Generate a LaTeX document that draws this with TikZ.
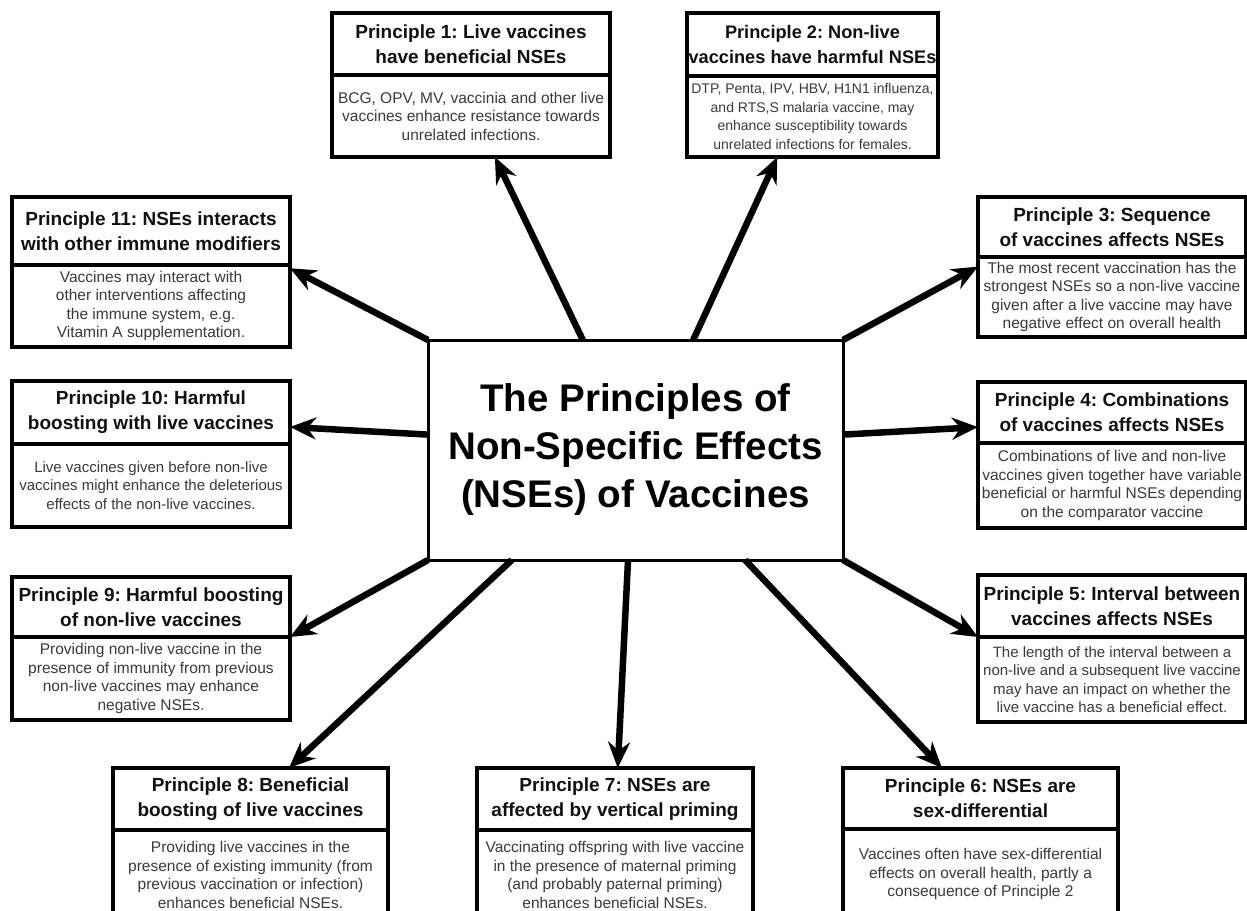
\documentclass[tikz,border=0pt]{standalone}
\usepackage{fontspec}
\setmainfont{Liberation Sans}
\frenchspacing
\usetikzlibrary{arrows.meta,calc,positioning}
\definecolor{nseInk}{HTML}{111111}
\definecolor{nseGrey}{HTML}{3A3A3A}

\begin{document}
\begin{tikzpicture}[x=1pt,y=-1pt,>=Stealth,line join=miter]
\useasboundingbox (0,0) rectangle (1247,910);
\clip (0,0) rectangle (1247,910);
\path[fill=white] (0,0) rectangle (1247,910);
\tikzset{ptitle/.style={draw=black,line width=3.5pt,fill=white,inner sep=0pt,outer sep=0pt,align=center,text=nseInk,font=\fontsize{19}{25}\selectfont\bfseries,anchor=north west},
pbody/.style={draw=black,line width=3.5pt,fill=white,inner sep=0pt,outer sep=0pt,align=center,text=nseGrey,font=\fontsize{15.5}{18.5}\selectfont,below=0pt of #1},
hub/.style={draw=black,line width=3pt,fill=white,inner sep=0pt,outer sep=0pt,align=center,text=black,font=\fontsize{38.5}{48}\selectfont\bfseries},
spoke/.style={draw=black,line width=6.5pt,-{Stealth[length=26pt,width=22pt]}}}
% centre
\node[hub,minimum width=415,minimum height=220] (hub) at (635.5,450) {The Principles of\\Non-Specific Effects\\(NSEs) of Vaccines};
% top row
\node[ptitle,minimum width=278,minimum height=62] (p1t) at (332,13) {Principle 1: Live vaccines\\have beneficial NSEs};
\node[pbody=p1t,minimum width=278,minimum height=82] (p1b) {BCG, OPV, MV, vaccinia and other live\\vaccines enhance resistance towards\\unrelated infections.};
\node[ptitle,minimum width=251,minimum height=63,font=\fontsize{18.2}{25}\selectfont\bfseries] (p2t) at (687,13) {Principle 2: Non-live\\vaccines have harmful NSEs};
\node[pbody=p2t,minimum width=251,minimum height=81,font=\fontsize{14}{18.5}\selectfont] (p2b) {DTP, Penta, IPV, HBV, H1N1 influenza,\\and RTS,S malaria vaccine, may\\enhance susceptibility towards\\unrelated infections for females.};
% left column
\node[ptitle,minimum width=278,minimum height=68] (p11t) at (12,197) {Principle 11: NSEs interacts\\with other immune modifiers};
\node[pbody=p11t,minimum width=278,minimum height=82] (p11b) {Vaccines may interact with\\other interventions affecting\\the immune system, e.g.\\Vitamin A supplementation.};
\node[ptitle,minimum width=278,minimum height=63] (p10t) at (12,381) {Principle 10: Harmful\\boosting with live vaccines};
\node[pbody=p10t,minimum width=278,minimum height=83,font=\fontsize{15}{18.5}\selectfont] (p10b) {Live vaccines given before non-live\\vaccines might enhance the deleterious\\effects of the non-live vaccines.};
\node[ptitle,minimum width=278,minimum height=60] (p9t) at (12,577) {Principle 9: Harmful boosting\\of non-live vaccines};
\node[pbody=p9t,minimum width=278,minimum height=83] (p9b) {Providing non-live vaccine in the\\presence of immunity from previous\\non-live vaccines may enhance\\negative NSEs.};
% right column
\node[ptitle,minimum width=268,minimum height=60] (p3t) at (978,197) {Principle 3: Sequence\\of vaccines affects NSEs};
\node[pbody=p3t,minimum width=268,minimum height=80] (p3b) {The most recent vaccination has the\\strongest NSEs so a non-live vaccine\\given after a live vaccine may have\\negative effect on overall health};
\node[ptitle,minimum width=268,minimum height=61] (p4t) at (978,382) {Principle 4: Combinations\\of vaccines affects NSEs};
\node[pbody=p4t,minimum width=268,minimum height=85] (p4b) {Combinations of live and non-live\\vaccines given together have variable\\beneficial or harmful NSEs depending\\on the comparator vaccine};
\node[ptitle,minimum width=268,minimum height=62] (p5t) at (978,575) {Principle 5: Interval between\\vaccines affects NSEs};
\node[pbody=p5t,minimum width=268,minimum height=85,font=\fontsize{15}{18.5}\selectfont] (p5b) {The length of the interval between a\\non-live and a subsequent live vaccine\\may have an impact on whether the\\live vaccine has a beneficial effect.};
% bottom row
\node[ptitle,minimum width=275,minimum height=62] (p8t) at (113,768) {Principle 8: Beneficial\\boosting of live vaccines};
\node[pbody=p8t,minimum width=275,minimum height=90] (p8b) {Providing live vaccines in the\\presence of existing immunity (from\\previous vaccination or infection)\\enhances beneficial NSEs.};
\node[ptitle,minimum width=276,minimum height=62] (p7t) at (477,768) {Principle 7: NSEs are\\affected by vertical priming};
\node[pbody=p7t,minimum width=276,minimum height=90] (p7b) {Vaccinating offspring with live vaccine\\in the presence of maternal priming\\(and probably paternal priming)\\enhances beneficial NSEs.};
\node[ptitle,minimum width=275,minimum height=61] (p6t) at (843,768) {Principle 6: NSEs are\\sex-differential};
\node[pbody=p6t,minimum width=275,minimum height=90] (p6b) {Vaccines often have sex-differential\\effects on overall health, partly a\\consequence of Principle 2};
% spokes
\draw[spoke] ($(hub.north west)!0.373!(hub.north east)$) -- ($(p1b.south west)!0.586!(p1b.south east)$);
\draw[spoke] ($(hub.north west)!0.639!(hub.north east)$) -- ($(p2b.south west)!0.36!(p2b.south east)$);
\draw[spoke] (hub.north west) -- ($(p11b.north east)!0.04!(p11b.south east)$);
\draw[spoke] (hub.north east) -- ($(p3b.north west)!0.12!(p3b.south west)$);
\draw[spoke] ($(hub.north west)!0.43!(hub.south west)$) -- ($(p10t.north east)!0.73!(p10t.south east)$);
\draw[spoke] ($(hub.north east)!0.43!(hub.south east)$) -- ($(p4t.north west)!0.74!(p4t.south west)$);
\draw[spoke] (hub.south west) -- (p9t.south east);
\draw[spoke] (hub.south east) -- (p5t.south west);
\draw[spoke] ($(hub.south west)!0.202!(hub.south east)$) -- ($(p8t.north west)!0.64!(p8t.north east)$);
\draw[spoke] ($(hub.south west)!0.482!(hub.south east)$) -- ($(p7t.north west)!0.51!(p7t.north east)$);
\draw[spoke] ($(hub.south west)!0.764!(hub.south east)$) -- ($(p6t.north west)!0.36!(p6t.north east)$);
\end{tikzpicture}
\end{document}
